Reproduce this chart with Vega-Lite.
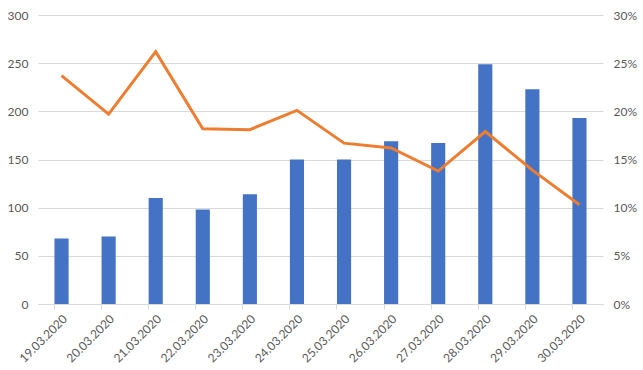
{
  "$schema": "https://vega.github.io/schema/vega-lite/v6.json",
  "autosize": {"type": "none"},
  "padding": {"left": 38, "top": 15, "right": 40, "bottom": 66},
  "width": 565,
  "height": 289,
  "background": "white",
  "config": {
    "view": {"stroke": null},
    "font": "Lato",
    "axis": {"labelFont": "Lato", "labelColor": "#595959", "labelFontSize": 12}
  },
  "data": {
    "values": [
      {"date": "19.03.2020", "count": 68, "rate": 0.237},
      {"date": "20.03.2020", "count": 70, "rate": 0.197},
      {"date": "21.03.2020", "count": 110, "rate": 0.262},
      {"date": "22.03.2020", "count": 98, "rate": 0.182},
      {"date": "23.03.2020", "count": 114, "rate": 0.181},
      {"date": "24.03.2020", "count": 150, "rate": 0.201},
      {"date": "25.03.2020", "count": 150, "rate": 0.167},
      {"date": "26.03.2020", "count": 169, "rate": 0.162},
      {"date": "27.03.2020", "count": 167, "rate": 0.138},
      {"date": "28.03.2020", "count": 249, "rate": 0.179},
      {"date": "29.03.2020", "count": 223, "rate": 0.139},
      {"date": "30.03.2020", "count": 193, "rate": 0.103}
    ]
  },
  "encoding": {
    "x": {
      "field": "date", "type": "ordinal", "title": null,
      "scale": {"paddingInner": 0.7, "paddingOuter": 0.35},
      "axis": {
        "labelAngle": -45, "bandPosition": 0,
        "domainColor": "#d9d9d9", "tickColor": "#d9d9d9", "tickSize": 5,
        "labelPadding": 4, "grid": false
      }
    }
  },
  "layer": [
    {
      "mark": {"type": "bar", "color": "#4472C4"},
      "encoding": {
        "y": {
          "field": "count", "type": "quantitative", "title": null,
          "scale": {"domain": [0, 300]},
          "axis": {"values": [0, 50, 100, 150, 200, 250, 300], "domain": false, "ticks": false,
                   "gridColor": "#d9d9d9", "labelPadding": 10}
        }
      }
    },
    {
      "mark": {"type": "line", "color": "#ED7D31", "strokeWidth": 3},
      "encoding": {
        "y": {
          "field": "rate", "type": "quantitative", "title": null,
          "scale": {"domain": [0, 0.3]},
          "axis": {"orient": "right", "format": ".0%", "values": [0, 0.05, 0.1, 0.15, 0.2, 0.25, 0.3],
                   "domain": false, "ticks": false, "grid": false, "labelPadding": 10}
        }
      }
    }
  ],
  "resolve": {"scale": {"y": "independent"}}
}
